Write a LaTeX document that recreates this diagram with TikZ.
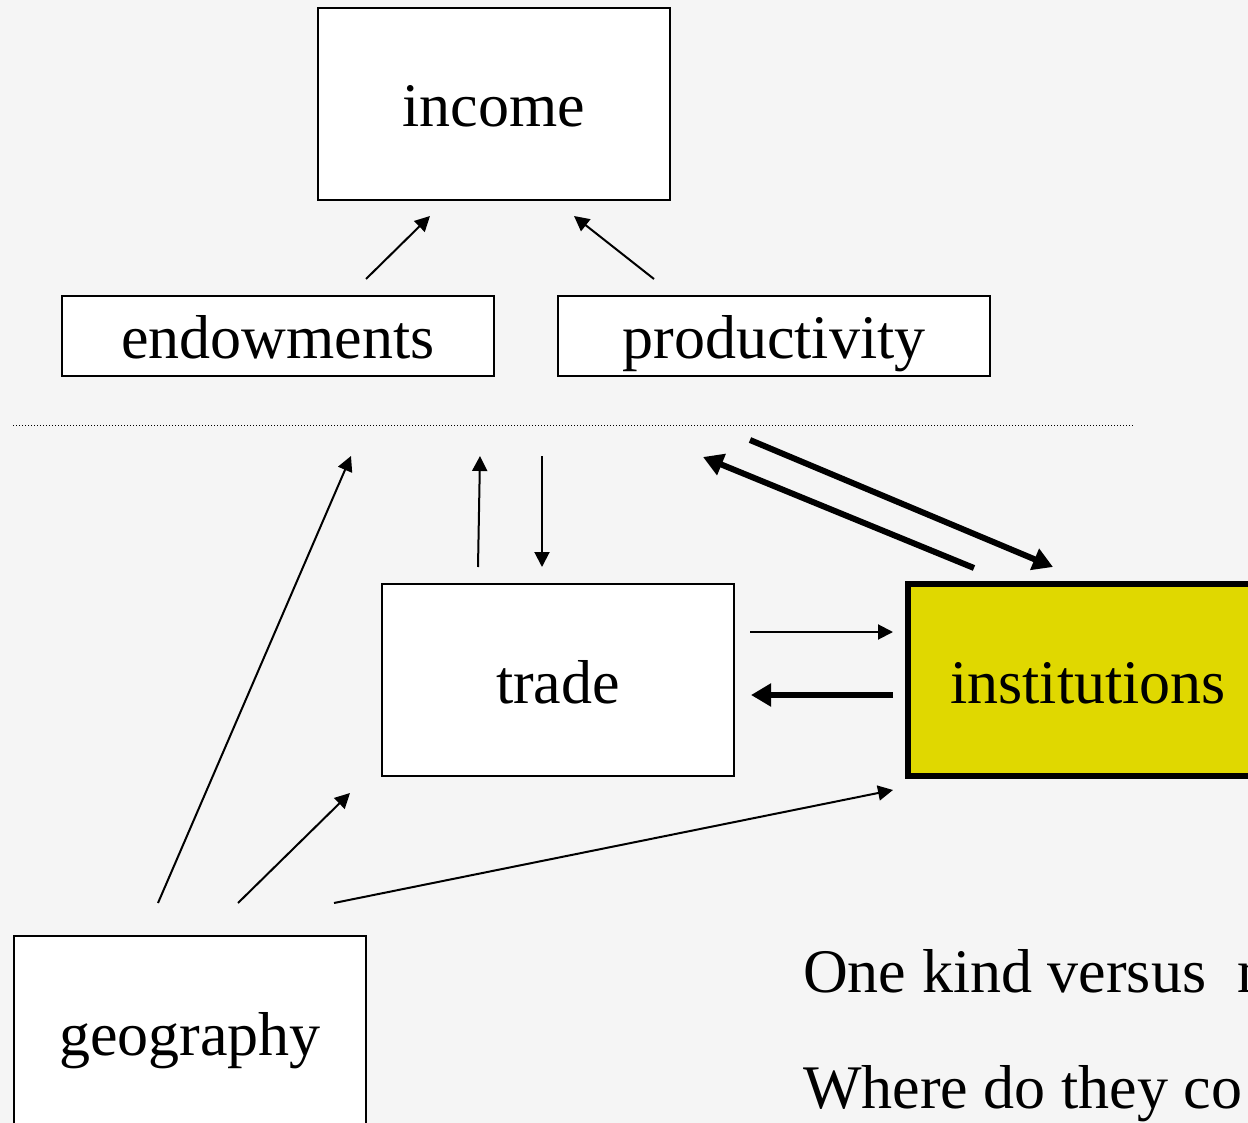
\documentclass[tikz,border=0pt]{standalone}
\usepackage{fontspec}
\setmainfont{Liberation Serif}
\usetikzlibrary{arrows.meta}
\definecolor{instyellow}{RGB}{224,216,0}
\begin{document}
\begin{tikzpicture}[x=1pt, y=-1pt, font=\fontsize{62}{70}\selectfont,
  box/.style={draw, line width=2pt, fill=white, inner sep=0pt, text height=46pt, text depth=0pt},
  bigbox/.style={box, minimum width=352pt, minimum height=192pt},
  flatbox/.style={box, minimum width=432pt, minimum height=80pt},
  thinarr/.style={line width=2pt, -{Triangle[length=15pt,width=15pt]}},
  thickarr/.style={line width=6pt, -{Triangle[length=20pt,width=22pt]}}]
\useasboundingbox (0,0) rectangle (1248,1123);
\clip (0,0) rectangle (1248,1123);
\fill[black!4] (0,0) rectangle (1248,1123);
% boxes
\node[bigbox] (income) at (494,104) {income};
\node[flatbox] (endow) at (278,336) {endowments};
\node[flatbox] (prod) at (774,336) {productivity};
\node[bigbox] (trade) at (558,680) {trade};
\node[bigbox, fill=instyellow, line width=6pt, minimum width=360pt] (inst) at (1088,680) {institutions};
\node[bigbox] (geo) at (190,1032) {geography};
\draw[line width=1pt, dash pattern=on 1pt off 2pt] (13,425) -- (1133,425);
% arrow end points
\coordinate (e0) at (366,279);  \coordinate (e1) at (430,216);
\coordinate (p0) at (654,279);  \coordinate (p1) at (574,216);
\coordinate (g0) at (158,903);  \coordinate (g1) at (351,456);
\coordinate (tu0) at (478,567); \coordinate (tu1) at (480,456);
\coordinate (td0) at (542,456); \coordinate (td1) at (542,567);
\coordinate (ti0) at (750,632); \coordinate (ti1) at (893,632);
\coordinate (gt0) at (238,903); \coordinate (gt1) at (350,793);
\coordinate (gi0) at (334,903); \coordinate (gi1) at (893,790);
\coordinate (iu0) at (974,568); \coordinate (iu1) at (703,457);
\coordinate (id0) at (750,440); \coordinate (id1) at (1053,567);
\coordinate (it0) at (893,695); \coordinate (it1) at (751,695);
\foreach \a/\b in {e0/e1,p0/p1,g0/g1,tu0/tu1,td0/td1,ti0/ti1,gt0/gt1,gi0/gi1}
  \draw[thinarr] (\a) -- (\b);
\foreach \a/\b in {iu0/iu1,id0/id1,it0/it1}
  \draw[thickarr] (\a) -- (\b);
% questions
\node[anchor=base west, inner sep=0pt] (q1) at (803,992) {One kind versus \ m};
\node[anchor=base west, inner sep=0pt] (q2) at (803,1108) {Where do they co};
\end{tikzpicture}
\end{document}
